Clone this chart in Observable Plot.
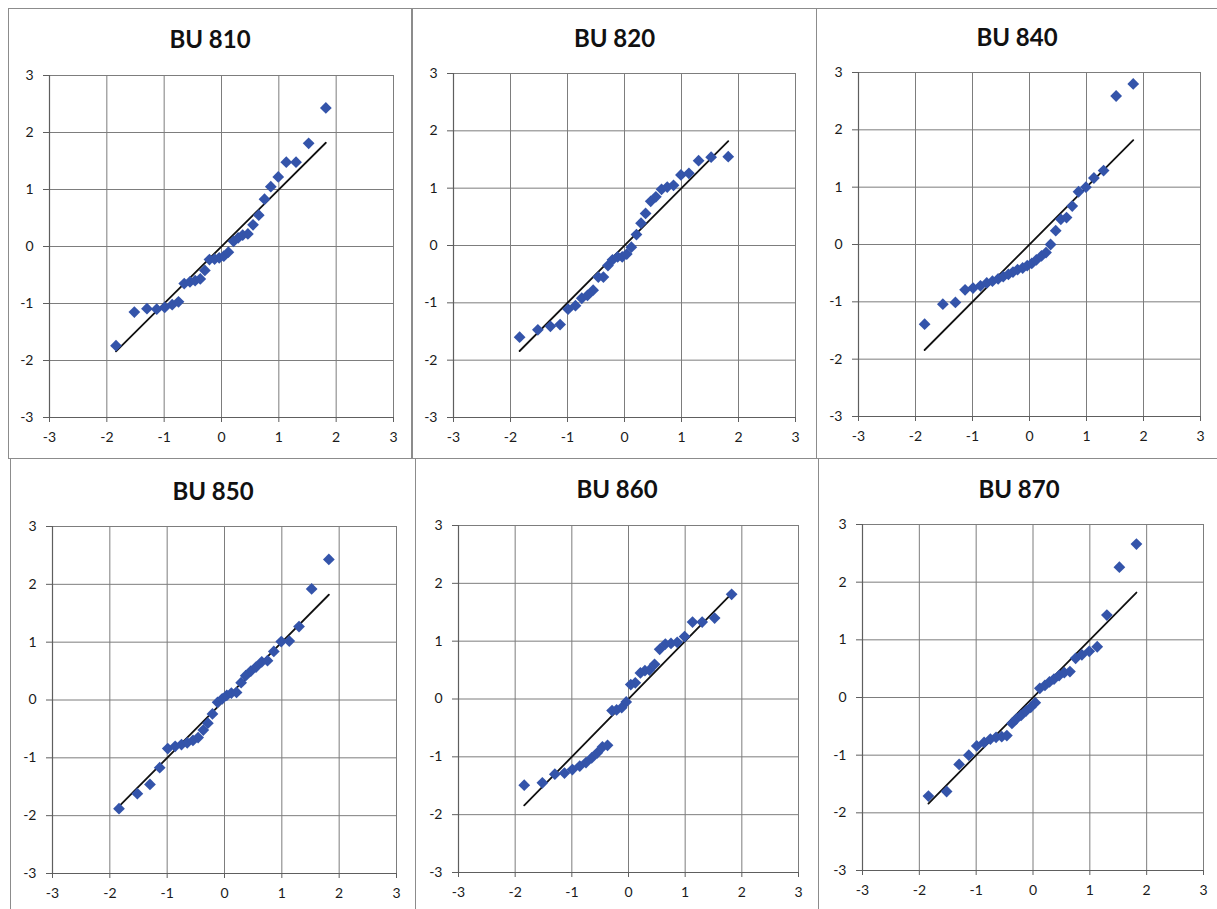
<!DOCTYPE html>
<html><head><meta charset="utf-8">
<script src="https://cdn.jsdelivr.net/npm/d3@7"></script>
<script src="https://cdn.jsdelivr.net/npm/@observablehq/plot@0.6"></script>
<style>
body{margin:0;background:#fff;}
#root{position:relative;width:1217px;height:909px;overflow:hidden;background:#fff;font-family:Lato,"Open Sans",sans-serif;}
.box{position:absolute;border:1.5px solid #8c8c8c;box-sizing:border-box;}
.title{position:absolute;font-weight:700;font-size:24px;line-height:1;color:#111;text-align:center;white-space:nowrap;}
.chart{position:absolute;}
.chart svg{overflow:visible;}
</style></head><body><div id="root"></div>
<script>
// ---- data ----
const panelNames = ["BU 810","BU 820","BU 840","BU 850","BU 860","BU 870"];
const zQuantiles = [-1.84,-1.52,-1.30,-1.13,-0.99,-0.86,-0.75,-0.65,-0.55,-0.46,-0.37,-0.29,-0.21,-0.12,-0.04,0.04,0.12,0.21,0.29,0.37,0.46,0.55,0.65,0.75,0.86,0.99,1.13,1.30,1.52,1.82];
const y810 = [-1.74,-1.15,-1.09,-1.10,-1.07,-1.02,-0.97,-0.65,-0.62,-0.60,-0.57,-0.42,-0.23,-0.22,-0.20,-0.17,-0.10,0.09,0.15,0.20,0.22,0.38,0.55,0.83,1.05,1.22,1.48,1.48,1.81,2.43];
const y820 = [-1.60,-1.47,-1.41,-1.38,-1.11,-1.05,-0.92,-0.87,-0.78,-0.55,-0.55,-0.35,-0.25,-0.20,-0.20,-0.15,-0.03,0.19,0.39,0.56,0.77,0.85,0.98,1.02,1.05,1.23,1.26,1.48,1.54,1.55];
const y840 = [-1.39,-1.04,-1.01,-0.79,-0.76,-0.72,-0.67,-0.64,-0.60,-0.56,-0.52,-0.48,-0.44,-0.41,-0.37,-0.33,-0.27,-0.20,-0.14,0.00,0.24,0.44,0.47,0.67,0.92,1.00,1.16,1.29,2.59,2.80];
const y850 = [-1.88,-1.62,-1.46,-1.17,-0.84,-0.80,-0.77,-0.74,-0.70,-0.65,-0.52,-0.40,-0.24,-0.04,0.02,0.08,0.12,0.13,0.30,0.42,0.50,0.57,0.66,0.68,0.84,1.01,1.02,1.27,1.92,2.43];
const y860 = [-1.49,-1.45,-1.30,-1.28,-1.22,-1.16,-1.10,-1.02,-0.93,-0.83,-0.80,-0.20,-0.19,-0.15,-0.05,0.25,0.28,0.45,0.49,0.50,0.60,0.86,0.95,0.96,0.98,1.08,1.33,1.33,1.40,1.81];
const y870 = [-1.71,-1.63,-1.16,-1.00,-0.84,-0.78,-0.72,-0.69,-0.68,-0.66,-0.45,-0.37,-0.31,-0.23,-0.17,-0.09,0.16,0.21,0.27,0.32,0.38,0.43,0.45,0.68,0.74,0.80,0.88,1.43,2.26,2.66];
const fitLine = [-1.84, 1.82];
const axisTicks = [-3,-2,-1,0,1,2,3];
const seriesList = [y810, y820, y840, y850, y860, y870];

// ---- layout (page pixels) ----
const layout = [
  {box:[8,8,404,451],   titleTop:27,  plot:[49,75,344,342]},
  {box:[412,8,405,451], titleTop:26,  plot:[453,73,342,344]},
  {box:[816,8,410,451], titleTop:25,  plot:[858,72,342,344]},
  {box:[10,458,406,460],titleTop:479, plot:[52,526,344,347]},
  {box:[415,458,404,460],titleTop:477,plot:[458,525,340,347]},
  {box:[818,458,410,460],titleTop:477,plot:[862,524,341,346]}
];
const ML = 45, MR = 10, MT = 10, MB = 35;
const root = document.getElementById("root");
const fmt = d => String(d);

panelNames.forEach((name, i) => {
  const L = layout[i];
  const box = document.createElement("div");
  box.className = "box";
  Object.assign(box.style, {left: L.box[0]+"px", top: L.box[1]+"px", width: L.box[2]+"px", height: L.box[3]+"px"});
  root.appendChild(box);

  const t = document.createElement("div");
  t.className = "title";
  t.textContent = name;
  Object.assign(t.style, {left: L.box[0]+"px", width: ((i === 2 || i === 5) ? 402 : L.box[2])+"px", top: L.titleTop+"px"});
  root.appendChild(t);

  const [x0, y0, w, h] = L.plot;
  const pts = zQuantiles.map((x, k) => ({x, y: seriesList[i][k]}));
  const fit = fitLine.map(v => ({x: v, y: v}));
  const chart = Plot.plot({
    width: w + ML + MR, height: h + MT + MB,
    marginLeft: ML, marginRight: MR, marginTop: MT, marginBottom: MB,
    x: {domain: [-3, 3]},
    y: {domain: [-3, 3]},
    style: {fontFamily: "Lato, 'Open Sans', sans-serif", fontSize: "14px", color: "#222", background: "transparent"},
    marks: [
      Plot.gridX(axisTicks, {stroke: "#7d7d7d", strokeOpacity: 1, strokeWidth: 1}),
      Plot.gridY(axisTicks, {stroke: "#7d7d7d", strokeOpacity: 1, strokeWidth: 1}),
      Plot.ruleX([-3], {stroke: "#5e5e5e", strokeWidth: 1.2}),
      Plot.ruleY([-3], {stroke: "#5e5e5e", strokeWidth: 1.2}),
      Plot.axisX({ticks: axisTicks, tickFormat: fmt, tickSize: 5, tickPadding: 10, label: null, stroke: "#5e5e5e", fill: "#1a1a1a", fontSize: 14}),
      Plot.axisY({ticks: axisTicks, tickFormat: fmt, tickSize: 6, tickPadding: 10, label: null, stroke: "#5e5e5e", fill: "#1a1a1a", fontSize: 14}),
      Plot.line(fit, {x: "x", y: "y", stroke: "#111", strokeWidth: 1.8}),
      Plot.dot(pts, {x: "x", y: "y", symbol: "diamond2", r: 5.3, fill: "#3454aa", stroke: "none"})
    ]
  });
  const holder = document.createElement("div");
  holder.className = "chart";
  Object.assign(holder.style, {left: (x0 - ML)+"px", top: (y0 - MT)+"px"});
  holder.appendChild(chart);
  root.appendChild(holder);
});
</script>
</body></html>
